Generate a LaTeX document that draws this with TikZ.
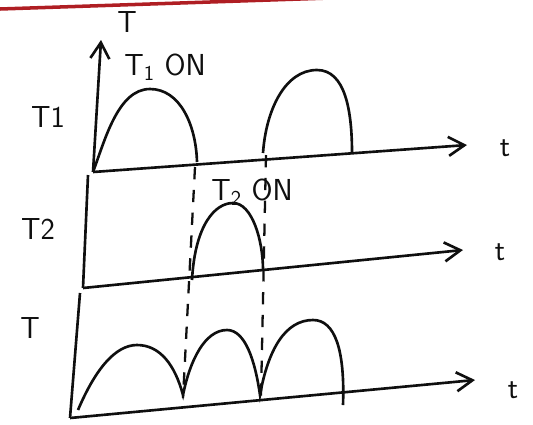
\documentclass[tikz,border=0pt]{standalone}
\usepackage{tikz}
\usetikzlibrary{arrows.meta}
\definecolor{inkblack}{RGB}{15,15,15}
\definecolor{penred}{RGB}{175,30,35}
\tikzset{
  axarr/.style={-{Straight Barb[length=3.2mm,width=3.8mm]}, inkblack, line width=1.5pt},
  axln/.style={inkblack, line width=1.5pt},
  wave/.style={inkblack, line width=1.5pt},
  guide/.style={inkblack, line width=1.3pt, dash pattern=on 7pt off 6pt},
  lbl/.style={font=\LARGE\sffamily, text=inkblack, inner sep=1pt},
}

\begin{document}
\begin{tikzpicture}[x=0.02cm, y=-0.02cm]
    \useasboundingbox (0,0) rectangle (533,424);
    \draw[penred, line width=2pt] (0,9) -- (330,-2);
    % top panel: T1
    \coordinate (o1) at (93,172); \coordinate (y1) at (101,40); \coordinate (x1) at (467,145);
    \draw[axarr] (o1) -- (y1);
    \draw[axarr] (o1) -- (x1);
    \node[lbl] (ylab) at (127,22) {T};
    \node[lbl] (on1) at (165,67) {T\textsubscript{1} ON};
    \node[lbl] (lab1) at (48,117) {T1};
    \node[lbl] (t1) at (505,148) {t};
    \draw[wave] (o1) .. controls (105,140) and (118,89) .. (150,89)
                     .. controls (180,89) and (196,125) .. (197,162);
    \draw[wave] (263,153) .. controls (266,110) and (285,70) .. (317,70)
                          .. controls (345,70) and (352,110) .. (352,153);
    % middle panel: T2
    \coordinate (m0) at (88,175); \coordinate (o2) at (83,288); \coordinate (x2) at (463,250);
    \draw[axln] (m0) -- (o2);
    \draw[axarr] (o2) -- (x2);
    \node[lbl] (lab2) at (38,229) {T2};
    \node[lbl] (on2) at (252,192) {T\textsubscript{2} ON};
    \node[lbl] (t2) at (500,252) {t};
    \draw[wave] (192,280) .. controls (195,225) and (215,203) .. (233,203)
                          .. controls (252,203) and (263,240) .. (263,270);
    % bottom panel: T
    \coordinate (b0) at (80,293); \coordinate (o3) at (70,418); \coordinate (x3) at (475,380);
    \draw[axln] (b0) -- (o3);
    \draw[axarr] (o3) -- (x3);
    \node[lbl] (lab3) at (30,328) {T};
    \node[lbl] (t3) at (513,390) {t};
    \draw[wave] (78,410) .. controls (95,370) and (115,345) .. (137,345)
                         .. controls (160,345) and (175,365) .. (183,395)
                         .. controls (190,360) and (205,330) .. (227,330)
                         .. controls (245,330) and (255,360) .. (260,395)
                         .. controls (268,350) and (285,320) .. (313,320)
                         .. controls (335,320) and (345,350) .. (343,405);
    % switching instants
    \coordinate (d1a) at (195,167); \coordinate (d1b) at (183,398);
    \coordinate (d2a) at (266,155); \coordinate (d2b) at (261,396);
    \draw[guide] (d1a) -- (d1b);
    \draw[guide] (d2a) -- (d2b);
\end{tikzpicture}
\end{document}
